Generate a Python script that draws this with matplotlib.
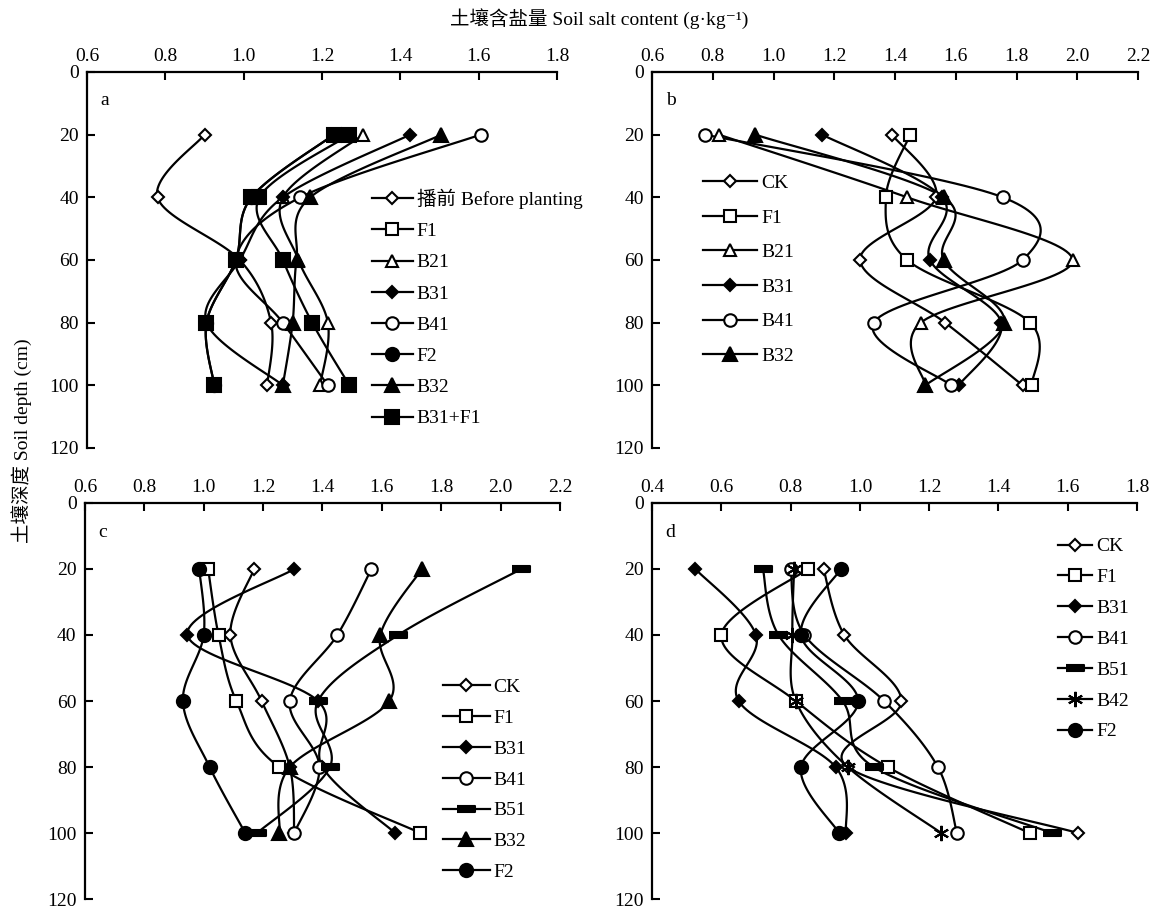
import numpy as np
import matplotlib
matplotlib.use("Agg")
import matplotlib.pyplot as plt
from matplotlib.lines import Line2D

plt.rcParams['font.family'] = ['Liberation Serif', 'Noto Sans CJK SC', 'DejaVu Sans']

# depth (cm)
depth = [20, 40, 60, 80, 100]

# a
a_before = [0.90, 0.78, 0.99, 1.07, 1.06]
a_f1 = [1.27, 1.04, 1.10, 1.175, 1.27]
a_b21 = [1.305, 1.10, 1.14, 1.215, 1.195]
a_b31 = [1.425, 1.10, 0.99, 0.905, 1.10]
a_b41 = [1.605, 1.145, 0.98, 1.10, 1.215]
a_f2 = [1.23, 1.02, 0.98, 0.905, 0.925]
a_b32 = [1.505, 1.17, 1.135, 1.125, 1.10]
a_b31f1 = [1.23, 1.02, 0.98, 0.905, 0.925]

# b
b_ck = [1.39, 1.535, 1.285, 1.565, 1.82]
b_f1 = [1.45, 1.37, 1.44, 1.845, 1.85]
b_b21 = [0.82, 1.44, 1.985, 1.485, 1.50]
b_b31 = [1.16, 1.555, 1.515, 1.75, 1.61]
b_b41 = [0.775, 1.755, 1.82, 1.33, 1.585]
b_b32 = [0.94, 1.56, 1.56, 1.76, 1.50]

# c
c_ck = [1.17, 1.09, 1.195, 1.29, 1.305]
c_f1 = [1.015, 1.05, 1.11, 1.255, 1.73]
c_b31 = [1.305, 0.945, 1.385, 1.40, 1.645]
c_b41 = [1.565, 1.45, 1.29, 1.39, 1.305]
c_b51 = [2.07, 1.655, 1.385, 1.425, 1.18]
c_b32 = [1.735, 1.595, 1.625, 1.29, 1.255]
c_f2 = [0.985, 1.0, 0.93, 1.02, 1.14]

# d
d_ck = [0.895, 0.955, 1.12, 0.965, 1.63]
d_f1 = [0.85, 0.60, 0.815, 1.08, 1.49]
d_b31 = [0.525, 0.70, 0.65, 0.93, 0.96]
d_b41 = [0.80, 0.84, 1.07, 1.225, 1.28]
d_b51 = [0.72, 0.765, 0.95, 1.04, 1.555]
d_b42 = [0.81, 0.805, 0.815, 0.965, 1.235]
d_f2 = [0.945, 0.83, 0.995, 0.83, 0.94]

bar = [(-1, -0.38), (1, -0.38), (1, 0.38), (-1, 0.38)]
M = {
    'od': dict(marker='D', ms=6, mfc='white'),
    'fd': dict(marker='D', ms=6.5, mfc='black'),
    'os': dict(marker='s', ms=8.5, mfc='white'),
    'fs': dict(marker='s', ms=9.5, mfc='black'),
    'ot': dict(marker='^', ms=9, mfc='white'),
    'ft': dict(marker='^', ms=9.5, mfc='black'),
    'oc': dict(marker='o', ms=9, mfc='white'),
    'fc': dict(marker='o', ms=9.5, mfc='black'),
    'bar': dict(marker=bar, ms=13, mfc='black'),
    'star': dict(marker=(6, 2, 0), ms=11, mfc='black'),
}

LW = 1.6


def smooth(ax, xs, ys, n=30):
    # Excel-like smoothed line (Catmull-Rom in pixel space)
    pts = ax.transData.transform(np.column_stack([xs, ys]))
    p = np.vstack([pts[0], pts, pts[-1]])
    t = np.linspace(0, 1, n)[:, None]
    out = []
    for i in range(1, len(p) - 2):
        p0, p1, p2, p3 = p[i - 1], p[i], p[i + 1], p[i + 2]
        c1 = p1 + (p2 - p0) / 6
        c2 = p2 - (p3 - p1) / 6
        out.append((1 - t) ** 3 * p1 + 3 * (1 - t) ** 2 * t * c1
                   + 3 * (1 - t) * t ** 2 * c2 + t ** 3 * p2)
    c = ax.transData.inverted().transform(np.vstack(out))
    return c[:, 0], c[:, 1]


def panel(ax, xlim, series, leg_xy, hlen, lspace, letter):
    ticks = np.arange(xlim[0], xlim[1] + 0.001, 0.2)
    ax.set_xlim(*xlim)
    ax.set_ylim(120, 0)
    ax.set_xticks(ticks)
    ax.set_xticklabels(['%.1f' % v for v in ticks])
    ax.set_yticks(range(0, 121, 20))
    ax.xaxis.tick_top()
    ax.spines['right'].set_visible(False)
    ax.spines['bottom'].set_visible(False)
    for s in ('left', 'top'):
        ax.spines[s].set_linewidth(1.6)
    ax.tick_params(direction='in', length=6, width=1.5, labelsize=14, pad=5)
    ax.tick_params(axis='y', pad=6)

    handles = []
    for vals, key, label, legkey in series:
        sx, sy = smooth(ax, vals, depth)
        ax.plot(sx, sy, color='black', lw=LW, zorder=2)
        ax.plot(vals, depth, ls='none', mec='black', mew=1.5, zorder=3, **M[key])
        handles.append(Line2D([], [], color='black', lw=LW, mec='black', mew=1.5,
                              **M[legkey]))
    ax.legend(handles, [s[2] for s in series], loc='upper left',
              bbox_to_anchor=leg_xy, frameon=False, fontsize=14,
              handlelength=hlen, handletextpad=0.2, labelspacing=lspace,
              borderpad=0, borderaxespad=0)
    ax.text(0.028, 0.925, letter, transform=ax.transAxes, fontsize=14,
            ha='left', va='center')


fig = plt.figure(figsize=(11.51, 9.10), dpi=100)
ax_a = fig.add_axes([0.0756, 0.5077, 0.4083, 0.4132])
ax_b = fig.add_axes([0.5665, 0.5077, 0.4222, 0.4132])
ax_c = fig.add_axes([0.0738, 0.0120, 0.4127, 0.4353])
ax_d = fig.add_axes([0.5665, 0.0120, 0.4214, 0.4353])

panel(ax_a, (0.6, 1.8), [
    (a_before, 'od', '播前 Before planting', 'od'),
    (a_f1, 'fs', 'F1', 'os'),
    (a_b21, 'ot', 'B21', 'ot'),
    (a_b31, 'fd', 'B31', 'fd'),
    (a_b41, 'oc', 'B41', 'oc'),
    (a_f2, 'fc', 'F2', 'fc'),
    (a_b32, 'ft', 'B32', 'ft'),
    (a_b31f1, 'fs', 'B31+F1', 'fs'),
], (0.606, 0.69), 2.1, 0.70, 'a')

panel(ax_b, (0.6, 2.2), [
    (b_ck, 'od', 'CK', 'od'),
    (b_f1, 'os', 'F1', 'os'),
    (b_b21, 'ot', 'B21', 'ot'),
    (b_b31, 'fd', 'B31', 'fd'),
    (b_b41, 'oc', 'B41', 'oc'),
    (b_b32, 'ft', 'B32', 'ft'),
], (0.104, 0.727), 2.8, 0.87, 'b')

panel(ax_c, (0.6, 2.2), [
    (c_ck, 'od', 'CK', 'od'),
    (c_f1, 'os', 'F1', 'os'),
    (c_b31, 'fd', 'B31', 'fd'),
    (c_b41, 'oc', 'B41', 'oc'),
    (c_b51, 'bar', 'B51', 'bar'),
    (c_b32, 'ft', 'B32', 'ft'),
    (c_f2, 'fc', 'F2', 'fc'),
], (0.754, 0.557), 2.4, 0.68, 'c')

panel(ax_d, (0.4, 1.8), [
    (d_ck, 'od', 'CK', 'od'),
    (d_f1, 'os', 'F1', 'os'),
    (d_b31, 'fd', 'B31', 'fd'),
    (d_b41, 'oc', 'B41', 'oc'),
    (d_b51, 'bar', 'B51', 'bar'),
    (d_b42, 'star', 'B42', 'star'),
    (d_f2, 'fc', 'F2', 'fc'),
], (0.837, 0.912), 1.75, 0.68, 'd')

fig.text(0.521, 0.980, '土壤含盐量 Soil salt content (g·kg⁻¹)', fontsize=14,
         ha='center', va='center')
fig.text(0.019, 0.516, '土壤深度 Soil depth (cm)', fontsize=14, rotation=90,
         ha='center', va='center')

fig.savefig('out.png', dpi=100)
